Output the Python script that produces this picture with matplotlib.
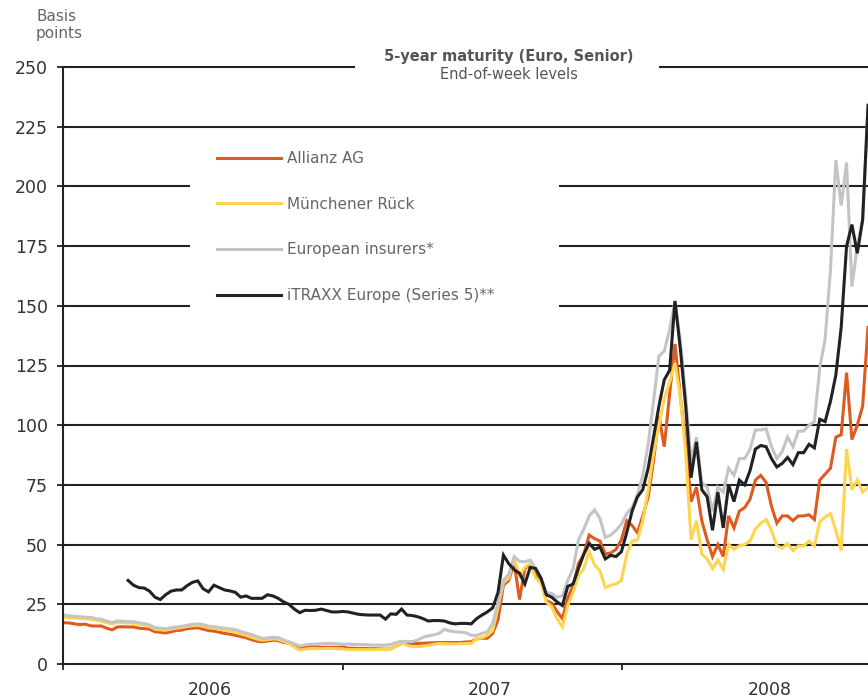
import numpy as np
import pandas as pd
import matplotlib
matplotlib.use('Agg')
import matplotlib.pyplot as plt
from matplotlib.patches import Rectangle
from matplotlib.lines import Line2D

# 1. Dati settimanali (punti base), da gen 2006 a nov 2008
dates = pd.date_range('2006-01-02', periods=151, freq='7D')

allianz = [
    17.3, 17.2, 16.8, 16.5, 16.7, 16.0, 15.9, 15.9, 15.0, 14.3,
    15.5, 15.6, 15.5, 15.5, 15.0, 14.8, 14.6, 13.5, 13.3, 13.0,
    13.5, 14.0, 14.2, 14.8, 15.0, 15.2, 14.6, 14.0, 13.8, 13.3,
    12.8, 12.5, 12.0, 11.5, 11.0, 10.2, 9.6, 9.3, 9.6, 10.0,
    9.8, 9.0, 8.8, 7.5, 6.5, 7.0, 7.2, 7.2, 7.0, 7.0,
    7.0, 7.0, 7.2,
    6.6, 6.6, 6.5, 6.5, 6.4, 6.4, 6.3, 6.2, 6.4, 7.5,
    8.7, 8.7, 8.6, 8.6, 8.7, 8.8, 8.9, 9.0, 9.0, 9.0,
    9.0, 9.0, 9.2, 9.3, 10.5, 10.8, 10.8, 12.8, 18.5, 33.0,
    35.0, 42.5, 27.0, 40.0, 41.5, 38.0,
    35.0, 26.5, 25.5, 22.0, 19.0, 27.5, 33.0, 42.0, 46.0, 54.0,
    52.5, 51.5, 46.0, 46.5, 48.0, 52.0, 60.0, 58.0, 55.0, 62.0,
    70.0, 85.0, 104.0, 91.0, 113.0, 134.0,
    112, 92, 68, 74, 60, 52, 45, 50, 45, 62,
    57, 64, 65.5, 69, 77, 79, 76, 66, 59, 62,
    62, 60, 62, 62, 62.5, 60.5, 77, 79.5, 82, 95,
    96, 122, 94, 100, 108, 141,
]

muenchener = [
    19.5, 19.3, 19.2, 19.0, 19.0, 18.7, 18.3, 18.0, 17.3, 16.8,
    17.4, 17.3, 17.2, 17.1, 16.7, 16.3, 15.8, 14.6, 14.3, 14.2,
    14.6, 15.0, 15.3, 15.7, 16.0, 16.2, 15.8, 15.2, 15.0, 14.6,
    14.2, 13.8, 13.4, 12.6, 12.0, 11.2, 10.5, 10.0, 10.2, 10.5,
    10.3, 9.4, 8.6, 7.0, 5.8, 6.2, 6.5, 6.5, 6.4, 6.5,
    6.5, 6.4, 6.3,
    6.0, 6.0, 6.0, 6.0, 6.0, 6.0, 6.1, 6.1, 6.3, 7.5,
    8.9, 7.8, 7.3, 7.3, 7.4, 7.8, 8.2, 8.6, 8.5, 8.4,
    8.4, 8.5, 8.6, 8.6, 10.5, 11.0, 12.0, 14.0, 24.0, 34.0,
    36.0, 44.0, 37.0, 40.5, 42.0, 36.0,
    34.0, 26.0, 24.0, 19.0, 15.5, 24.5, 30.0, 37.0, 40.0, 47.0,
    41.5, 39.0, 32.0, 33.0, 33.5, 35.0, 46.0, 51.5, 52.0, 60.0,
    73.0, 88.0, 100.0, 111.0, 118.0, 126.0,
    112, 88, 52, 60, 46, 44, 40, 43.5, 39.5, 50,
    48, 49.5, 50, 51.5, 56.5, 59, 60.5, 56, 49.5, 48.5,
    50.5, 47.5, 49.5, 49.5, 51.5, 49.5, 59.5, 61.5, 63, 56,
    47.5, 90, 73, 77, 72, 74,
]

insurers = [
    20.5, 20.2, 19.9, 19.8, 19.6, 19.5, 19.0, 18.7, 18.0, 17.3,
    18.0, 17.9, 17.7, 17.7, 17.3, 16.9, 16.4, 15.2, 15.0, 14.8,
    15.2, 15.5, 15.8, 16.2, 16.6, 16.8, 16.5, 15.8, 15.6, 15.3,
    15.0, 14.7, 14.4, 13.6, 13.0, 12.3, 11.5, 10.7, 10.9, 11.2,
    11.0, 10.0, 9.3, 8.5, 7.5, 8.0, 8.3, 8.3, 8.5, 8.6,
    8.6, 8.5, 8.3,
    8.3, 8.2, 8.2, 8.1, 8.0, 7.9, 7.9, 7.9, 8.2, 9.0,
    9.5, 9.4, 9.4, 10.0, 11.2, 11.8, 12.2, 12.8, 14.5, 13.8,
    13.5, 13.3, 13.1, 12.0, 12.0, 12.8, 13.5, 17.0, 25.5, 35.0,
    37.5, 45.0, 43.0, 42.8, 43.5, 40.0,
    36, 30, 29.5, 28, 28.5, 35, 40, 52, 56.5, 62,
    64.5, 61, 53, 54, 56, 58.5, 63, 65.5, 71, 79,
    92, 110, 129, 131, 140, 152,
    135, 112, 85, 95, 76, 74, 64, 74, 72, 82,
    79, 86, 86, 90, 98, 98, 98.5, 91, 86, 89,
    95, 91, 97.5, 97.5, 100, 101.5, 124, 136, 165, 211,
    192, 210, 158, 175, 186, 232,
]

# iTRAXX Series 5 parte a fine marzo 2006
itraxx = [np.nan] * 12 + [
    35.0, 33.0, 32.0, 31.8, 30.5, 28.0, 27.0, 29.0, 30.5, 31.0,
    31.0, 32.8, 34.2, 34.8, 31.5, 30.2, 33.0, 32.0, 31.0, 30.6,
    30.0, 28.0, 28.5, 27.5, 27.5, 27.5, 29.0, 28.5, 27.5, 26.0,
    25.0, 23.0, 21.5, 22.5, 22.4, 22.5, 23.0, 22.4, 21.8, 21.8,
    22.0,
    21.8, 21.3, 20.8, 20.6, 20.5, 20.5, 20.5, 18.8, 21.0, 20.8,
    23.0, 20.5, 20.3, 19.8, 19.0, 18.0, 18.2, 18.2, 18.0, 17.2,
    16.8, 17.0, 17.0, 16.8, 19.0, 20.5, 21.8, 23.5, 30.0, 45.6,
    42.0, 39.5, 38.0, 33.5, 40.5, 40.0,
    36, 29, 28, 26, 24.5, 32.5, 33.5, 40, 46, 50.5,
    48, 49, 44, 45.5, 45, 47, 55, 64, 70, 73,
    82, 95, 108, 119, 123, 152,
    132, 108, 78, 93, 73, 70, 56, 72, 57, 75,
    68, 77, 75, 81, 90, 91.5, 91, 86, 82.5, 84,
    86.5, 83.5, 88.5, 88.5, 92, 90.5, 102.5, 101.5, 110, 121,
    141, 175, 184, 172, 186, 234,
]

labels = ['Allianz AG', 'Münchener Rück', 'European insurers*', 'iTRAXX Europe (Series 5)**']
colors = ['#DE5A1F', '#FFD54F', '#C4C4C4', '#222222']
series = [allianz, muenchener, insurers, itraxx]

year_ticks = pd.to_datetime(['2006-01-01', '2007-01-01', '2008-01-01'])
year_labels = ['2006', '2007', '2008']
year_label_pos = pd.to_datetime(['2006-07-12', '2007-07-12', '2008-07-12'])
y_ticks = list(range(0, 275, 25))

# 2. Figura e assi
fig = plt.figure(figsize=(8.68, 6.99), dpi=100)
ax = fig.add_axes([63 / 868, 35 / 699, 805 / 868, 597 / 699])
ax.set_xlim(pd.Timestamp('2006-01-01'), dates[-1])
ax.set_ylim(0, 250)

# linee orizzontali della griglia
for v in y_ticks[1:]:
    ax.axhline(v, color='#222222', lw=1.5, zorder=1, clip_on=False)

# riquadri bianchi che interrompono la griglia (titolo e legenda)
ax.add_patch(Rectangle((0.158, 0.55), 0.458, 0.337, transform=ax.transAxes,
                       facecolor='white', edgecolor='none', zorder=2))
ax.add_patch(Rectangle((0.3627, 0.975), 0.378, 0.06, transform=ax.transAxes,
                       facecolor='white', edgecolor='none', zorder=2, clip_on=False))

# 3. Serie
for vals, lab, col in zip(series, labels, colors):
    ax.plot(dates, vals, color=col, lw=2.2, label=lab, zorder=3,
            solid_joinstyle='miter')

# 4. Assi e tick
for side in ['top', 'right']:
    ax.spines[side].set_visible(False)
for side in ['left', 'bottom']:
    ax.spines[side].set_color('#222222')
    ax.spines[side].set_linewidth(1.5)
    ax.spines[side].set_zorder(4)

ax.set_yticks(y_ticks)
ax.tick_params(axis='y', length=4, width=1.3, color='#222222', pad=7,
               labelsize=12.5, labelcolor='#333333')
ax.set_xticks(year_ticks)
ax.set_xticklabels([])
ax.set_xticks(year_label_pos, minor=True)
ax.set_xticklabels(year_labels, minor=True)
ax.tick_params(axis='x', which='major', length=4, width=1.3, color='#222222')
ax.tick_params(axis='x', which='minor', length=0, pad=12,
               labelsize=12.5, labelcolor='#333333')

# 5. Testi
ax.text(0.554, 1.0184, '5-year maturity (Euro, Senior)', transform=ax.transAxes,
        ha='center', va='center', fontsize=10.5, fontweight='bold', color='#555555', zorder=5)
ax.text(0.554, 0.9866, 'End-of-week levels', transform=ax.transAxes,
        ha='center', va='center', fontsize=10.5, color='#555555', zorder=5)
fig.text(36 / 868, 1 - 9 / 699, 'Basis\npoints', ha='left', va='top',
         fontsize=11, color='#666666', linespacing=1.2)

handles = [Line2D([], [], color=c, lw=2.2) for c in colors]
leg = ax.legend(handles, labels, loc='upper left', bbox_to_anchor=(0.174, 0.882),
                frameon=False, fontsize=11, handlelength=4.2, handletextpad=0.4,
                labelspacing=2.0, borderpad=0.4, labelcolor='#666666')
leg.set_zorder(5)

fig.savefig('out.png', dpi=100)
